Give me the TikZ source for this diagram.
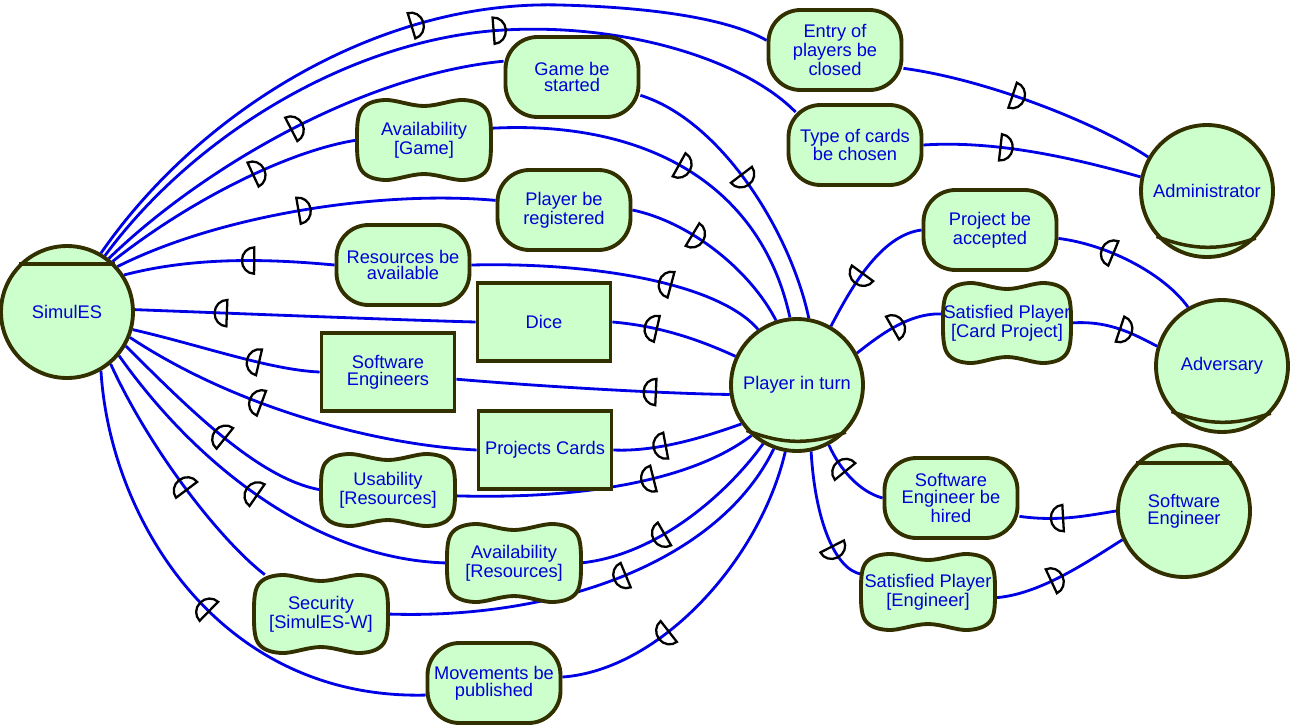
\documentclass[tikz,border=0pt]{standalone}
\usepackage{fontspec}
\setmainfont{Liberation Sans}
\usetikzlibrary{decorations.markings}
\definecolor{gfill}{RGB}{204,255,204}
\definecolor{edgeol}{RGB}{51,48,0}
\definecolor{txtblue}{RGB}{0,0,215}
\definecolor{lnblue}{RGB}{0,0,230}
\pgfdeclarelayer{bg}
\pgfsetlayers{bg,main}
\tikzset{
 every node/.style={font=\fontsize{10.4}{9.6}\selectfont, text=txtblue, align=center},
 actor/.style={circle, draw=edgeol, line width=2.2pt, fill=gfill, minimum size=2.64cm, inner sep=0pt},
 goal/.style={rectangle, rounded corners=0.64cm, draw=edgeol, line width=2.2pt, fill=gfill, minimum width=2.66cm, minimum height=1.6cm, inner sep=1pt},
 res/.style={rectangle, draw=edgeol, line width=2.2pt, fill=gfill, minimum width=2.66cm, minimum height=1.56cm},
 sgnode/.style={rectangle, inner sep=0pt},
 sgline/.style={draw=edgeol, line width=2.2pt, fill=gfill},
 olline/.style={draw=edgeol, line width=2pt},
 dep/.style={draw=lnblue, line width=1.6pt},
 mk/.style={draw=black, line width=1.3pt},
 dfw/.style={postaction={decorate,decoration={markings,mark=at position #1 with {\draw[mk] (0pt,-7.5pt) arc[start angle=-90,end angle=90,x radius=7pt,y radius=7.5pt] -- cycle;}}}},
 dbw/.style={postaction={decorate,decoration={markings,mark=at position #1 with {\draw[mk] (0pt,-7.5pt) arc[start angle=-90,end angle=-270,x radius=7pt,y radius=7.5pt] -- cycle;}}}},
}
\newcommand\softg[6]{%
 \draw[sgline] plot[smooth cycle, tension=0.6] coordinates {({#2},{#3-#5+6}) ({#2+0.6*#4},{#3-#5}) ({#2+0.95*#4},{#3-0.75*#5}) ({#2+#4+1},{#3}) ({#2+0.95*#4},{#3+0.75*#5}) ({#2+0.6*#4},{#3+#5}) ({#2},{#3+#5-6}) ({#2-0.6*#4},{#3+#5}) ({#2-0.95*#4},{#3+0.75*#5}) ({#2-#4-1},{#3}) ({#2-0.95*#4},{#3-0.75*#5}) ({#2-0.6*#4},{#3-#5})};
 \node[sgnode, minimum width={2*#4*0.02cm}, minimum height={2*#5*0.02cm}] (#1) at (#2,#3) {#6};}
\begin{document}
\begin{tikzpicture}[x=0.02cm,y=-0.02cm]
\useasboundingbox (0,0) rectangle (1291,727);

% actors
\node[actor] (simul) at (67,312) {SimulES};
\node[actor] (player) at (797,385) {Player in turn};
\node[actor] (admin) at (1207,191) {Administrator};
\node[actor] (adv) at (1222,366) {Adversary};
\node[actor] (sengr) at (1184,511) {Software\\Engineer};
\draw[olline] (simul.135) -- (simul.45);
\draw[olline] (sengr.135) -- (sengr.45);
\draw[olline] (player.222) to[bend right=20] (player.316);
\draw[olline] (admin.222) to[bend right=20] (admin.316);
\draw[olline] (adv.222) to[bend right=20] (adv.316);

% goals
\node[goal] (entry) at (835,50) {Entry of\\players be\\closed};
\node[goal] (game) at (572,77) {Game be\\started};
\node[goal] (types) at (855,145) {Type of cards\\be chosen};
\node[goal] (preg) at (564,210) {Player be\\registered};
\node[goal] (pacc) at (990,230) {Project be\\accepted};
\node[goal] (resav) at (403,265) {Resources be\\available};
\node[goal] (sehired) at (951,498) {Software\\Engineer be\\hired};
\node[goal] (movpub) at (494,683) {Movements be\\published};

% resources
\node[res] (dice) at (544,322) {Dice};
\node[res] (swres) at (388,372) {Software\\Engineers};
\node[res] (pcards) at (545,450) {Projects Cards};

% softgoals
\softg{avgame}{424}{140}{66}{40}{Availability\\{[Game]}}
\softg{satcard}{1007}{323}{63}{40}{Satisfied Player\\{[Card Project]}}
\softg{usab}{388}{490}{66}{36}{Usability\\{[Resources]}}
\softg{avres}{514}{563}{66}{39}{Availability\\{[Resources]}}
\softg{secur}{321}{614}{66}{39}{Security\\{[SimulES-W]}}
\softg{satengr}{928}{592}{66}{38}{Satisfied Player\\{[Engineer]}}

\begin{pgfonlayer}{bg}
% SimulES side
\draw[dep,dfw=0.52] (simul.60) .. controls (200,110) and (380,0) .. (560,5) .. controls (680,8) and (740,25) .. (entry.172);
\draw[dep,dfw=0.59] (simul.56) .. controls (190,140) and (340,45) .. (490,31) .. controls (620,20) and (745,60) .. ([shift={(9,9)}]types.north west);
\draw[dep,dfw=0.5] (simul.52) .. controls (200,170) and (360,75) .. (game.167);
\draw[dep,dfw=0.6] (simul.48) .. controls (190,200) and (290,150) .. (avgame.west);
\draw[dep,dfw=0.49] (simul.42) .. controls (220,215) and (380,190) .. (preg.172);
\draw[dep,dbw=0.62] (simul.33) .. controls (200,255) and (280,260) .. (resav.west);
\draw[dep,dbw=0.27] (simul.2) .. controls (250,314) and (400,320) .. (dice.west);
\draw[dep,dbw=0.68] (simul.-15) .. controls (200,345) and (270,370) .. (swres.west);
\draw[dep,dbw=0.4] (simul.-22) .. controls (240,410) and (380,445) .. (pcards.west);
\draw[dep,dbw=0.55] (simul.-30) .. controls (190,410) and (260,480) .. (usab.west);
\draw[dep,dbw=0.49] (simul.-40) .. controls (200,470) and (320,560) .. (avres.west);
\draw[dep,dbw=0.56] (simul.-50) .. controls (150,450) and (220,540) .. (secur.145);
\draw[dep,dbw=0.53] (simul.-60) .. controls (110,520) and (220,700) .. (movpub.190);
% Player side
\draw[dep,dfw=0.5] (avgame.10) .. controls (640,120) and (760,180) .. (player.96);
\draw[dep,dfw=0.45] (game.-15) .. controls (720,120) and (790,230) .. (player.80);
\draw[dep,dfw=0.35] (preg.east) .. controls (690,222) and (750,270) .. (player.108);
\draw[dep,dbw=0.67] (resav.east) .. controls (600,262) and (720,285) .. (player.125);
\draw[dep,dbw=0.35] (dice.east) .. controls (660,326) and (700,340) .. (player.155);
\draw[dep,dbw=0.73] (swres.-6) .. controls (560,388) and (680,394) .. (player.188);
\draw[dep,dbw=0.4] (pcards.east) .. controls (660,452) and (710,435) .. (player.215);
\draw[dep,dbw=0.65] (usab.-5) .. controls (600,500) and (700,475) .. (player.228);
\draw[dep,dbw=0.4] (avres.east) .. controls (660,555) and (730,490) .. (player.240);
\draw[dep,dbw=0.55] (secur.east) .. controls (560,620) and (720,560) .. (player.250);
\draw[dep,dbw=0.35] (movpub.5) .. controls (660,670) and (760,560) .. (player.260);
% right side
\draw[dep,dbw=0.45] (player.60) .. controls (850,290) and (880,235) .. (pacc.west);
\draw[dep,dfw=0.45] (player.28) .. controls (880,335) and (910,312) .. (satcard.172);
\draw[dep,dbw=0.38] (pacc.-7) .. controls (1110,245) and (1165,275) .. (adv.120);
\draw[dep,dfw=0.55] (satcard.east) .. controls (1110,320) and (1135,335) .. (adv.163);
\draw[dep,dbw=0.4] (player.-62) .. controls (840,470) and (860,492) .. (sehired.west);
\draw[dep,dfw=0.7] (player.-78) .. controls (815,520) and (835,570) .. (satengr.165);
\draw[dep,dbw=0.45] (sehired.-15) .. controls (1060,522) and (1090,515) .. (sengr.180);
\draw[dep,dfw=0.42] (satengr.-5) .. controls (1040,595) and (1090,560) .. (sengr.205);
\draw[dep,dfw=0.43] (entry.-15) .. controls (990,80) and (1100,125) .. (admin.150);
\draw[dep,dfw=0.35] (types.east) .. controls (1000,140) and (1080,160) .. (admin.168);
\end{pgfonlayer}
\end{tikzpicture}
\end{document}
